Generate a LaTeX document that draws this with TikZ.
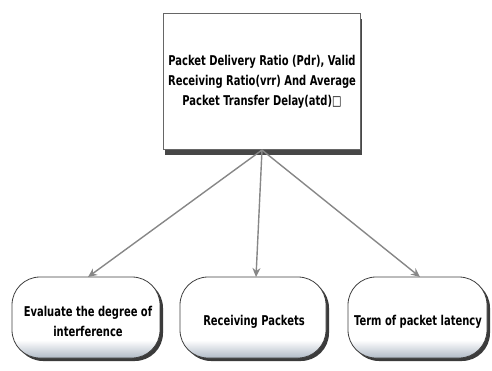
\documentclass[tikz,border=0pt]{standalone}
\usepackage{fontspec}
\setmainfont[FakeStretch=0.82]{DejaVu Sans Condensed}
\usetikzlibrary{shadows,arrows.meta}
\definecolor{steelbase}{RGB}{176,186,198}
\definecolor{linkgray}{RGB}{135,135,135}
\pgfdeclareverticalshading{pillshade}{100bp}{%
  color(0bp)=(steelbase); color(25bp)=(steelbase); color(36bp)=(white);
  color(75bp)=(white); color(100bp)=(white)}
\tikzset{
  topbox/.style={draw=black!60, fill=white, line width=0.8pt,
    drop shadow={shadow xshift=2pt, shadow yshift=-6pt, fill=black!80, opacity=0.9}},
  pill/.style={draw=black!75, line width=0.8pt, rounded corners=28pt,
    shading=pillshade,
    drop shadow={shadow xshift=3pt, shadow yshift=-3pt, fill=black!85, opacity=0.9}},
  label/.style={font=\bfseries\fontsize{13.5}{20}\selectfont, align=center, text=black},
  link/.style={draw=linkgray, line width=1.4pt,
    -{Stealth[length=9pt, width=8pt]}},
}
\begin{document}
\begin{tikzpicture}[x=1pt, y=-1pt]
  \useasboundingbox (0,0) rectangle (492,371);

  % upper box
  \draw[topbox] (163,13) rectangle (360,149);
  \node[label] (top) at (262,82)
    {Packet Delivery Ratio (Pdr), Valid\\Receiving Ratio(vrr) And Average\\Packet Transfer Delay(atd)□};
  \coordinate (src) at (262,150);

  % lower boxes
  \draw[pill] (12,277) rectangle (160,358);
  \draw[pill] (180,277) rectangle (326,358);
  \draw[pill] (348,277) rectangle (487,358);

  \node[label] (eval) at (88,321) {Evaluate the degree of\\interference};
  \node[label] (recv) at (254,322) {Receiving Packets};
  \node[label] (term) at (418,322) {Term of packet latency};

  \coordinate (t1) at (88,277);
  \coordinate (t2) at (256,277);
  \coordinate (t3) at (420,277);

  \draw[link] (src) -- (t1);
  \draw[link] (src) -- (t2);
  \draw[link] (src) -- (t3);
\end{tikzpicture}
\end{document}
